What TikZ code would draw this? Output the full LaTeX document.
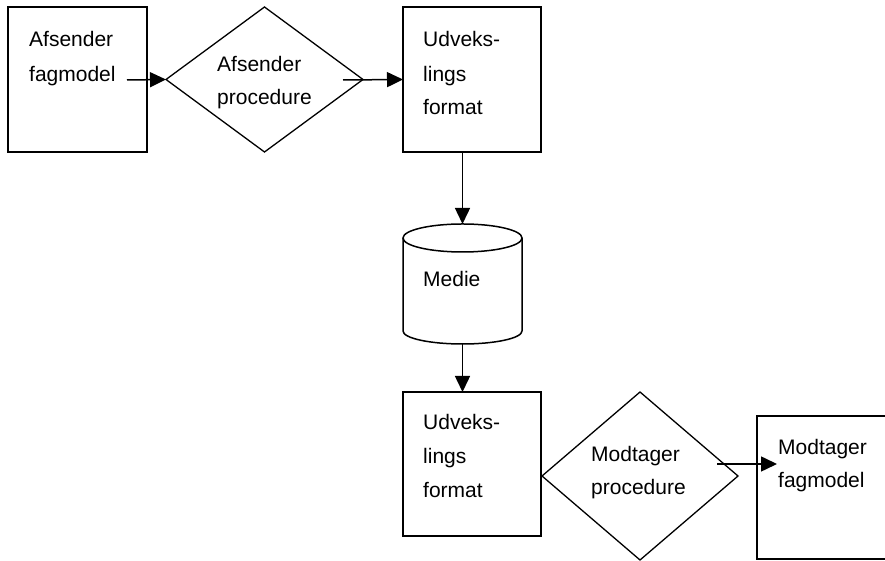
\documentclass[tikz,border=0pt]{standalone}
\usepackage{fontspec}
\setmainfont{Liberation Sans}
\usetikzlibrary{shapes.geometric,arrows.meta}
\begin{document}
\begin{tikzpicture}[x=1pt,y=1pt,
  shp/.style={draw=black,line width=1.5pt,inner sep=0pt,outer sep=0pt},
  boxnode/.style={shp,rectangle},
  dnode/.style={shp,diamond,line width=1.3pt},
  lbl/.style={anchor=base west,inner sep=0pt,font=\fontsize{21}{25}\selectfont},
  arr/.style={line width=1.5pt,-{Triangle[length=16pt,width=15pt]}}]
\clip (0,0) rectangle (885,561);
% shapes (y = 561 - pixel row)
\node[boxnode,minimum width=139pt,minimum height=145pt] (b1) at (77.5,481.5) {};
\node[dnode,minimum width=197pt,minimum height=145pt] (d1) at (264.5,481.5) {};
\node[boxnode,minimum width=138pt,minimum height=145pt] (b3) at (472,481.5) {};
\node[draw=none,inner sep=0pt,outer sep=0pt,minimum width=119pt,minimum height=120pt] (med) at (462.5,277) {};
\draw[line width=1.5pt] (462.5,323) ellipse[x radius=59.5pt,y radius=14pt];
\draw[line width=1.5pt] (403,323) -- (403,230) arc[start angle=180,end angle=360,x radius=59.5pt,y radius=13pt] -- (522,323);
\node[boxnode,minimum width=138pt,minimum height=144pt] (b4) at (472,97) {};
\node[dnode,minimum width=196pt,minimum height=168pt] (d2) at (640,85) {};
\node[boxnode,minimum width=150pt,minimum height=143pt] (b5) at (832,73.5) {};
% labels
\node[lbl] (t1a) at (29,514) {Afsender};
\node[lbl] (t1b) at (29,479) {fagmodel};
\node[lbl] (t2a) at (217,489) {Afsender};
\node[lbl] (t2b) at (217,456) {procedure};
\node[lbl] (t3a) at (423,514) {Udveks-};
\node[lbl] (t3b) at (423,479) {lings};
\node[lbl] (t3c) at (423,446) {format};
\node[lbl] (tm) at (423,274) {Medie};
\node[lbl] (t4a) at (423,131) {Udveks-};
\node[lbl] (t4b) at (423,97) {lings};
\node[lbl] (t4c) at (423,63) {format};
\node[lbl] (t5a) at (591,99) {Modtager};
\node[lbl] (t5b) at (591,66) {procedure};
\node[lbl] (t6a) at (778,106) {Modtager};
\node[lbl] (t6b) at (778,73) {fagmodel};
% connectors
\coordinate (a1s) at (127,481);
\coordinate (a2s) at (343,481);
\coordinate (a5s) at (717,97);
\coordinate (a5e) at (777,97);
\draw[arr] (a1s) -- (d1.west);
\draw[arr] (a2s) -- (b3.west);
\draw[arr] (med.north |- b3.south) -- (med.north);
\draw[arr] (med.south) -- (med.south |- b4.north);
\draw[arr] (a5s) -- (a5e);
\end{tikzpicture}
\end{document}
